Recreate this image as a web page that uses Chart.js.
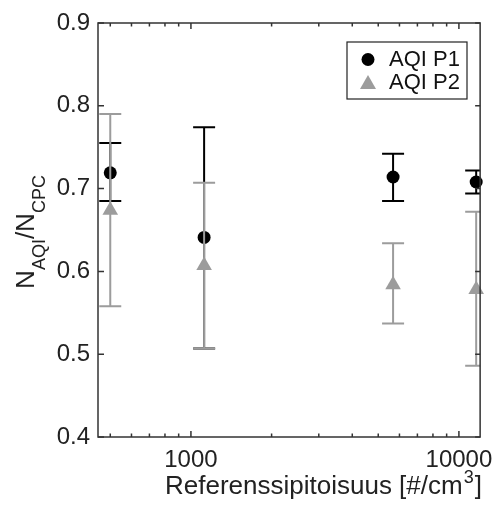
<!DOCTYPE html>
<html>
<head>
<meta charset="utf-8">
<script src="https://cdn.jsdelivr.net/npm/chart.js@4.4.1/dist/chart.umd.min.js"></script>
<style>
  html, body { margin: 0; padding: 0; background: #fff; }
  #wrap { width: 502px; height: 511px; }
</style>
</head>
<body>
<div id="wrap"><canvas id="chart"></canvas></div>
<script>
// reference concentration (x) and the two sensors' ratio with error limits
const xValues = [500, 1120, 5680, 11600];
const p1Mean = [0.719, 0.641, 0.714, 0.708];
const p1Lower = [0.685, 0.507, 0.685, 0.694];
const p1Upper = [0.755, 0.774, 0.742, 0.722];
const p2Mean = [0.674, 0.607, 0.584, 0.578];
const p2Lower = [0.558, 0.507, 0.537, 0.486];
const p2Upper = [0.790, 0.707, 0.634, 0.672];
const seriesLabels = ['AQI P1', 'AQI P2'];
const xTickValues = [500, 600, 700, 800, 900, 1000, 2000, 3000, 4000, 5000, 6000, 7000, 8000, 9000, 10000];
const xTickLabels = {1000: '1000', 10000: '10000'};
const yTickValues = [0.4, 0.5, 0.6, 0.7, 0.8, 0.9];

const BLACK = '#000000';
const GREY = '#9c9c9c';
const AXIS = '#333333';
const FONT = '"Liberation Sans", Arial, sans-serif';

const errorLimits = [[p1Lower, p1Upper, BLACK], [p2Lower, p2Upper, GREY]];

// error bars drawn just before each dataset's markers (matlab-like stacking)
const errorBars = {
    id: 'errorBars',
    beforeDatasetDraw(chart, args) {
        const [lo, hi, col] = errorLimits[args.index];
        const {ctx, chartArea, scales: {x, y}} = chart;
        ctx.save();
        ctx.strokeStyle = col;
        ctx.lineWidth = 2;
        xValues.forEach((xv, i) => {
            const px = x.getPixelForValue(xv);
            const yl = y.getPixelForValue(lo[i]);
            const yh = y.getPixelForValue(hi[i]);
            const cl = Math.max(px - 11, chartArea.left);
            const cr = Math.min(px + 11, chartArea.right);
            ctx.beginPath();
            ctx.moveTo(px, yl); ctx.lineTo(px, yh);
            ctx.moveTo(cl, yl); ctx.lineTo(cr, yl);
            ctx.moveTo(cl, yh); ctx.lineTo(cr, yh);
            ctx.stroke();
        });
        ctx.restore();
    }
};

// box, inward ticks, axis titles with sub/superscripts, legend
const frame = {
    id: 'frame',
    afterDraw(chart) {
        const {ctx, chartArea: a, scales: {x, y}} = chart;
        ctx.save();
        ctx.strokeStyle = AXIS;
        ctx.lineWidth = 1.5;
        ctx.strokeRect(a.left, a.top, a.right - a.left, a.bottom - a.top);

        ctx.beginPath();
        xTickValues.forEach(v => {
            const px = x.getPixelForValue(v);
            const len = xTickLabels[v] ? 6 : 3.5;
            ctx.moveTo(px, a.bottom); ctx.lineTo(px, a.bottom - len);
            ctx.moveTo(px, a.top); ctx.lineTo(px, a.top + len);
        });
        yTickValues.forEach(v => {
            const py = y.getPixelForValue(v);
            ctx.moveTo(a.left, py); ctx.lineTo(a.left + 6, py);
            ctx.moveTo(a.right, py); ctx.lineTo(a.right - 5, py);
        });
        ctx.stroke();

        // x title
        ctx.fillStyle = '#222';
        ctx.textBaseline = 'alphabetic';
        ctx.textAlign = 'left';
        let tx = 165;
        const ty = 494;
        ctx.font = '26px ' + FONT;
        const main = 'Referenssipitoisuus [#/cm';
        ctx.fillText(main, tx, ty);
        tx += ctx.measureText(main).width;
        ctx.font = '18px ' + FONT;
        ctx.fillText('3', tx + 1, ty - 11);
        tx += ctx.measureText('3').width + 2;
        ctx.font = '26px ' + FONT;
        ctx.fillText(']', tx, ty);

        // y title, rotated
        ctx.save();
        ctx.translate(34, 232);
        ctx.rotate(-Math.PI / 2);
        const parts = [['N', 26, 0], ['AQI', 18, 11], ['/N', 26, 0], ['CPC', 18, 11]];
        let w = 0;
        parts.forEach(([t, s]) => { ctx.font = s + 'px ' + FONT; w += ctx.measureText(t).width; });
        let cx = -w / 2;
        parts.forEach(([t, s, d]) => {
            ctx.font = s + 'px ' + FONT;
            ctx.fillText(t, cx, d);
            cx += ctx.measureText(t).width;
        });
        ctx.restore();

        // legend
        const lx = 347, ly = 42, lw = 120, lh = 57;
        ctx.fillStyle = '#fff';
        ctx.fillRect(lx, ly, lw, lh);
        ctx.strokeStyle = '#222';
        ctx.lineWidth = 1.2;
        ctx.strokeRect(lx, ly, lw, lh);
        ctx.fillStyle = BLACK;
        ctx.beginPath();
        ctx.arc(368, 59.5, 6.5, 0, Math.PI * 2);
        ctx.fill();
        ctx.fillStyle = GREY;
        ctx.beginPath();
        ctx.moveTo(368, 75); ctx.lineTo(376, 89); ctx.lineTo(360, 89);
        ctx.closePath();
        ctx.fill();
        ctx.fillStyle = '#111';
        ctx.font = '22px ' + FONT;
        ctx.textBaseline = 'middle';
        ctx.fillText(seriesLabels[0], 389, 60);
        ctx.fillText(seriesLabels[1], 389, 83);
        ctx.restore();
    }
};

new Chart(document.getElementById('chart'), {
    type: 'scatter',
    data: {
        datasets: [{
            label: seriesLabels[0],
            data: xValues.map((v, i) => ({x: v, y: p1Mean[i]})),
            pointStyle: 'circle',
            pointRadius: 6.5,
            backgroundColor: BLACK,
            borderColor: BLACK,
            borderWidth: 0,
            order: 1,
            clip: false
        }, {
            label: seriesLabels[1],
            data: xValues.map((v, i) => ({x: v, y: p2Mean[i]})),
            pointStyle: 'triangle',
            pointRadius: 9,
            backgroundColor: GREY,
            borderColor: GREY,
            borderWidth: 0,
            order: 0,
            clip: false
        }]
    },
    options: {
        responsive: true,
        maintainAspectRatio: false,
        animation: false,
        layout: { padding: { top: 23, right: 13, left: 0, bottom: 0 } },
        plugins: { legend: { display: false }, tooltip: { enabled: false } },
        scales: {
            x: {
                type: 'logarithmic',
                min: 450,
                max: 12000,
                grid: { display: false, drawTicks: false },
                border: { display: false },
                afterBuildTicks: s => { s.ticks = xTickValues.map(v => ({value: v})); },
                afterFit: s => { s.height = 74; },
                ticks: {
                    autoSkip: false,
                    maxRotation: 0,
                    padding: 9,
                    color: '#222',
                    font: { family: FONT, size: 24 },
                    callback: v => xTickLabels[v] || ''
                }
            },
            y: {
                min: 0.4,
                max: 0.9,
                grid: { display: false, drawTicks: false },
                border: { display: false },
                afterBuildTicks: s => { s.ticks = yTickValues.map(v => ({value: v})); },
                afterFit: s => { s.width = 98; },
                ticks: {
                    padding: 8,
                    color: '#222',
                    font: { family: FONT, size: 24 },
                    callback: v => v.toFixed(1)
                }
            }
        }
    },
    plugins: [errorBars, frame]
});
</script>
</body>
</html>
